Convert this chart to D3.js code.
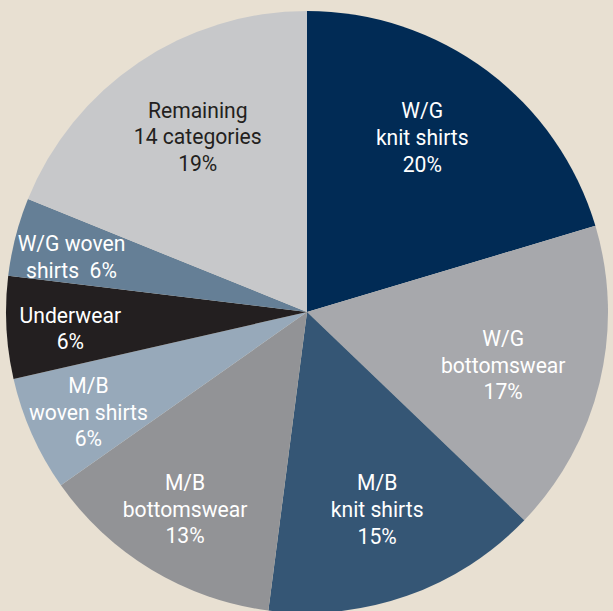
<!DOCTYPE html>
<html>
<head>
<meta charset="utf-8">
<script src="https://cdn.jsdelivr.net/npm/d3@7"></script>
<style>
  html, body { margin: 0; padding: 0; background: #e8e0d2; }
  svg { display: block; }
  .lbl { font-family: Roboto, "Liberation Sans Narrow", sans-serif; font-size: 22px; white-space: pre; }
</style>
</head>
<body>
<div id="chart"></div>
<script>
// apparel import shares, clockwise from 12 o'clock
const categories = ['W/G knit shirts', 'W/G bottomswear', 'M/B knit shirts', 'M/B bottomswear',
  'M/B woven shirts', 'Underwear', 'W/G woven shirts', 'Remaining 14 categories'];
// slice sizes as drawn
const shares = [20.4, 16.8, 14.9, 13.2, 6.2, 5.5, 4.2, 18.9];
// printed label text, line by line
const labelLines = [
  ['W/G', 'knit shirts', '20%'],
  ['W/G', 'bottomswear', '17%'],
  ['M/B', 'knit shirts', '15%'],
  ['M/B', 'bottomswear', '13%'],
  ['M/B', 'woven shirts', '6%'],
  ['Underwear', '6%'],
  ['W/G woven', 'shirts  6%'],
  ['Remaining', '14 categories', '19%']
];
const colors = ['#012b55', '#a7a8ac', '#355675', '#929396', '#97a9ba', '#231f20', '#657f96', '#c7c8ca'];

const W = 613, H = 611;
const cx = 307, cy = 312, R = 301;
const lineH = 26.7;

// hand tweaks so labels sit where the designer put them
const labelNudge = {
  'W/G knit shirts': [-9, -8],
  'W/G bottomswear': [-6, 4],
  'M/B knit shirts': [1, 1],
  'M/B bottomswear': [0, -5],
  'M/B woven shirts': [-3, 4],
  'Underwear': [-1, 4],
  'W/G woven shirts': [-7, 4],
  'Remaining 14 categories': [7, -3]
};

const svg = d3.select('#chart').append('svg')
  .attr('width', W).attr('height', H);

svg.append('rect').attr('width', W).attr('height', H).attr('fill', '#e8e0d2');

const data = categories.map((c, i) => ({ name: c, value: shares[i], lines: labelLines[i], color: colors[i] }));

const pie = d3.pie().value(d => d.value).sort(null);
const arc = d3.arc().innerRadius(0).outerRadius(R);

const g = svg.append('g').attr('transform', `translate(${cx},${cy})`);

const arcs = pie(data);

g.selectAll('path')
  .data(arcs)
  .enter().append('path')
  .attr('d', arc)
  .attr('fill', d => d.data.color);

// small slices carry their label further out
const labelPos = d => {
  const r = d.data.value < 14 ? 236 : 208;
  const [x, y] = d3.arc().innerRadius(0).outerRadius(2 * r).centroid(d);
  const [nx, ny] = labelNudge[d.data.name] || [0, 0];
  return [x + nx, y + ny];
};

const labels = g.selectAll('text.lbl')
  .data(arcs)
  .enter().append('text')
  .attr('class', 'lbl')
  .attr('text-anchor', 'middle')
  .attr('fill', d => d.data.name.startsWith('Remaining') ? '#231f20' : '#ffffff')
  .attr('transform', d => `translate(${labelPos(d)}) scale(0.96,1)`);

labels.each(function(d) {
  const n = d.data.lines.length;
  d3.select(this).selectAll('tspan')
    .data(d.data.lines)
    .enter().append('tspan')
    .attr('x', 0)
    .attr('y', (t, i) => (i - (n - 1) / 2) * lineH)
    .attr('dy', '0.35em')
    .text(t => t);
});
</script>
</body>
</html>
